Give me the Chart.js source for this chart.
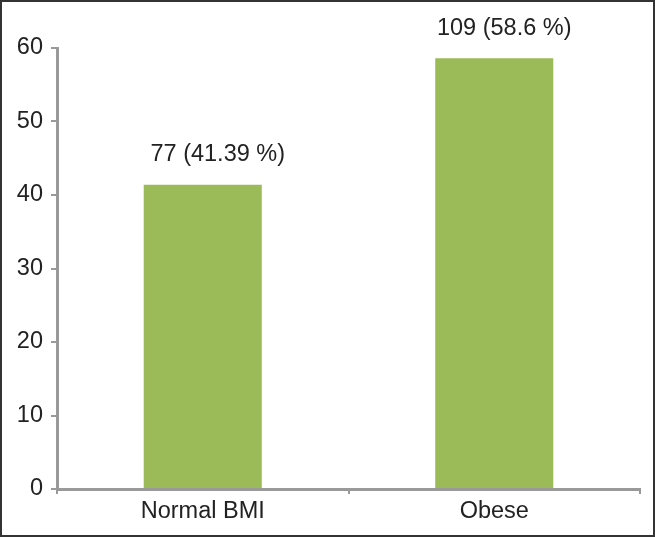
<!DOCTYPE html>
<html>
<head>
<meta charset="utf-8">
<script src="https://cdn.jsdelivr.net/npm/chart.js@4"></script>
<style>
  html, body { margin: 0; padding: 0; background: #fff; }
  #wrap { width: 655px; height: 537px; position: relative; }
</style>
</head>
<body>
<div id="wrap"><canvas id="chart" width="655" height="537"></canvas></div>
<script>
  const categories = ['Normal BMI', 'Obese'];
  const percentValues = [41.39, 58.6];
  const barLabels = ['77 (41.39 %)', '109 (58.6 %)'];
  const yTicks = [0, 10, 20, 30, 40, 50, 60];

  const FONT = '"Liberation Sans", Arial, sans-serif';
  const FSIZE = 23.5;
  const LABEL_DX = [15, 10]; // labels sit a bit right of the bar centre in the original

  // value labels above the bars + the frame round the picture
  const extras = {
    id: 'extras',
    afterDatasetsDraw(chart){
      const ctx = chart.ctx;
      const meta = chart.getDatasetMeta(0);
      ctx.save();
      ctx.font = FSIZE + 'px ' + FONT;
      ctx.fillStyle = '#222';
      ctx.textAlign = 'center';
      ctx.textBaseline = 'middle';
      meta.data.forEach((bar, i) => {
        ctx.fillText(barLabels[i], bar.x + LABEL_DX[i], bar.y - 30);
      });
      ctx.restore();
    },
    afterDraw(chart){
      const ctx = chart.ctx;
      ctx.save();
      ctx.strokeStyle = '#333';
      ctx.lineWidth = 2;
      ctx.strokeRect(1, 1, chart.width - 2, chart.height - 2);
      ctx.restore();
    }
  };

  new Chart(document.getElementById('chart'), {
    type: 'bar',
    data: {
      labels: categories,
      datasets: [{
        data: percentValues,
        backgroundColor: '#9BBB59',
        categoryPercentage: 1,
        barPercentage: 0.405
      }]
    },
    options: {
      responsive: false,
      animation: false,
      layout: { padding: { top: 48, right: 15, left: 0, bottom: 0 } },
      plugins: { legend: { display: false }, tooltip: { enabled: false } },
      scales: {
        x: {
          afterFit(s){ s.height = 48; },
          grid: { drawOnChartArea: false, drawTicks: true, tickLength: 5, color: '#999', lineWidth: 2, offset: true },
          border: { color: '#999', width: 3 },
          ticks: { color: '#222', font: { family: FONT, size: FSIZE }, padding: 3 }
        },
        y: {
          min: 0,
          max: 60,
          afterFit(s){ s.width = 57; },
          afterBuildTicks(s){ s.ticks = yTicks.map(v => ({ value: v })); },
          grid: { drawOnChartArea: false, drawTicks: true, tickLength: 6, color: '#999', lineWidth: 2 },
          border: { color: '#999', width: 3 },
          ticks: { color: '#222', font: { family: FONT, size: FSIZE }, padding: 8 }
        }
      }
    },
    plugins: [extras]
  });
</script>
</body>
</html>
